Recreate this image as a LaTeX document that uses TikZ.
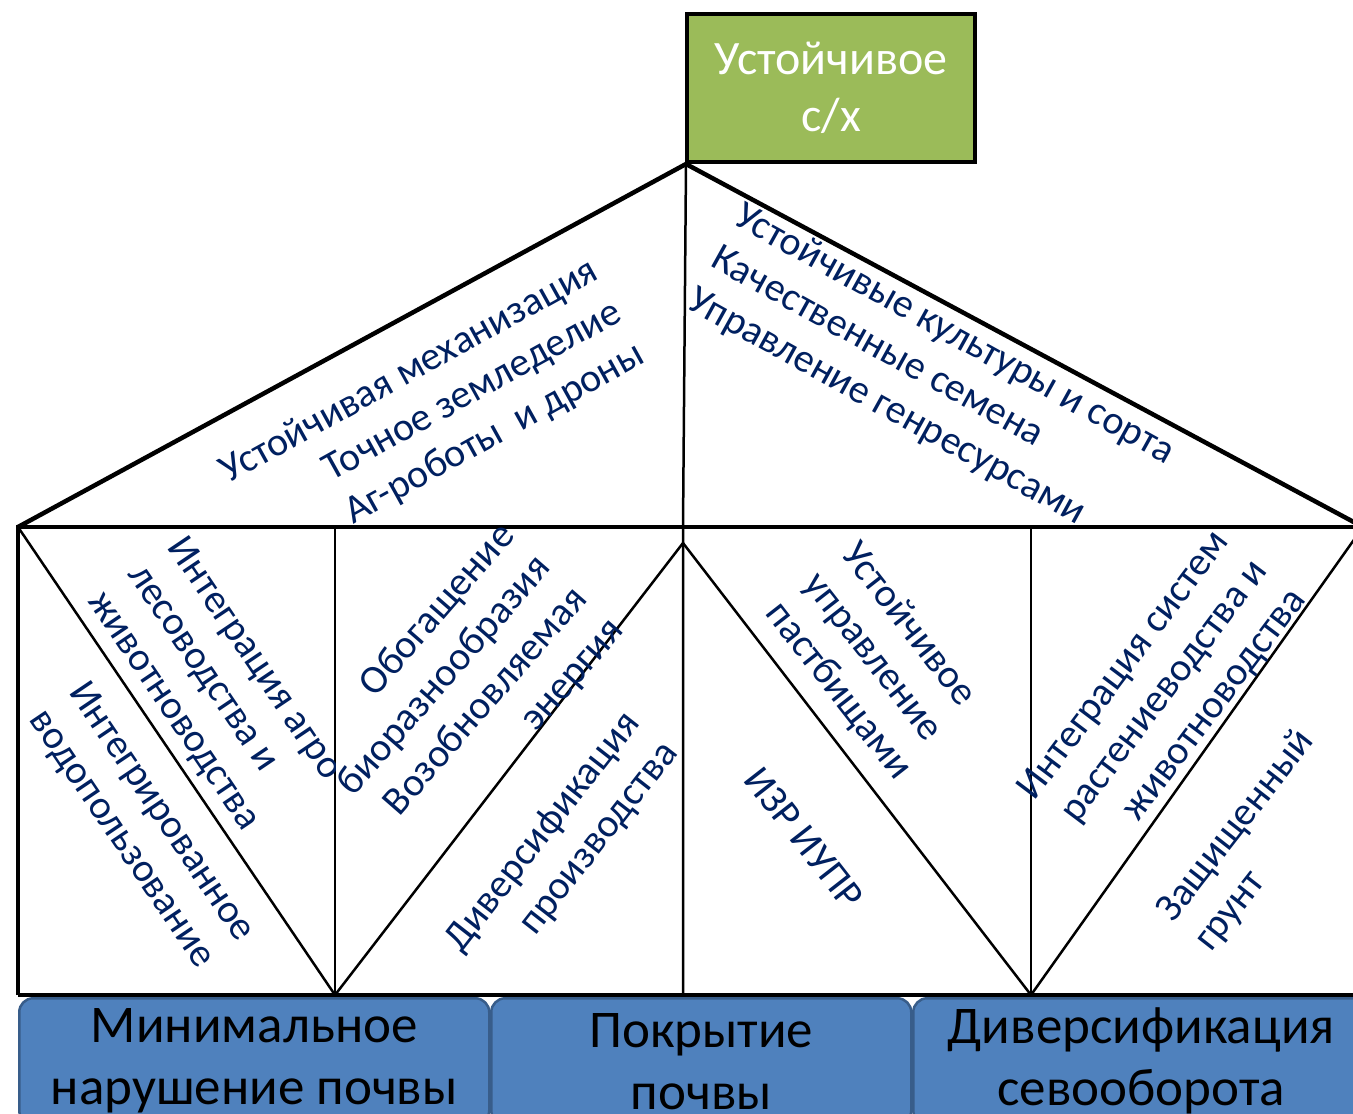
\documentclass[tikz,border=0pt]{standalone}
\usepackage{fontspec}
\setmainfont{Carlito}
\definecolor{labelblue}{RGB}{0,32,96}
\definecolor{rootgreen}{RGB}{155,187,89}
\definecolor{pillarblue}{RGB}{79,129,189}
\definecolor{pillaredge}{RGB}{56,93,138}
\tikzset{
  heavy/.style={line width=4.5pt},
  light/.style={line width=2.5pt},
  practice/.style={text=labelblue, inner sep=0pt, font=\fontsize{40}{48}\selectfont},
  pillar/.style={draw=pillaredge, line width=2.5pt, fill=pillarblue, rounded corners=14pt,
    anchor=north west, minimum height=126pt, inner sep=0pt, align=center,
    font=\fontsize{53}{62}\selectfont},
}
\begin{document}
\begin{tikzpicture}[x=1pt,y=-1pt]
\clip (0,0) rectangle (1353,1114);
\fill[white] (0,0) rectangle (1353,1114);

% top box
\node[draw, line width=4pt, fill=rootgreen, text=white, anchor=north west,
  minimum width=288pt, minimum height=148pt, align=center,
  font=\fontsize{48}{57}\selectfont] (root) at (685,12) {Устойчивое\\с/х};

% frame points
\coordinate (apex) at (686,164);
\coordinate (leftTop) at (18,527);
\coordinate (rightTop) at (1363,527);
\coordinate (leftBot) at (18,995);
\coordinate (rightBot) at (1363,995);
\coordinate (midTop) at (683,527);
\coordinate (vee) at (683,543);
\coordinate (midBot) at (683,995);
\coordinate (postL) at (335,527);
\coordinate (footL) at (335,995);
\coordinate (postR) at (1031,527);
\coordinate (footR) at (1031,995);

% thin lines
\draw[light] (apex) -- (midTop) -- (midBot);
\draw[light] (leftTop) -- (footL) -- (vee) -- (footR) -- (rightTop);
\draw[light] (postL) -- (footL);
\draw[light] (postR) -- (footR);
% roof and frame
\draw[heavy] (leftTop) -- (apex) -- (rightTop);
\draw[heavy] (leftBot) -- (leftTop) -- (rightTop);
\draw[heavy] (leftBot) -- (rightBot);

% bottom boxes
\node[pillar, minimum width=470pt] (nodig) at (18,997) {Минимальное\\нарушение почвы};
\node[pillar, minimum width=420pt] (cover) at (490,997) {Покрытие\\почвы};
\node[pillar, minimum width=456pt] (rotation) at (912,997) {Диверсификация\\севооборота};

% roof texts
\node[practice, rotate=29, align=right] (mech) at (433,414) {Устойчивая механизация\\Точное земледелие\\Аг-роботы~ и дроны};
\node[practice, rotate=-29, align=left] (crops) at (931,377) {Устойчивые культуры и сорта\\Качественные семена\\Управление генресурсами};

% panel texts
\node[practice, rotate=-56, align=center] (water) at (141,826) {Интегрированное\\водопользование};
\begin{scope}
\clip (18,527) rectangle (335,995);
\node[practice, rotate=-56, align=left] (agroforest) at (214,686) {Интеграция агро\\лесоводства и\\животноводства};
\end{scope}
\node[practice, rotate=49, align=right] (biodiv) at (463,692) {Обогащение\\биоразнообразия\\Возобновляемая\\энергия};
\node[practice, rotate=52, align=right] (diverse) at (562,847) {Диверсификация\\производства};
\node[practice, rotate=-52, align=left] (pasture) at (876,662) {Устойчивое\\управление\\пастбищами};
\node[practice, rotate=-52] (ipm) at (804,838) {ИЗР ИУПР};
\node[practice, rotate=53, align=right] (croplive) at (1163,695) {Интеграция систем\\растениеводства и\\животноводства};
\node[practice, rotate=52, align=left] (greenhouse) at (1255,841) {Защищенный\\грунт};
\end{tikzpicture}
\end{document}
